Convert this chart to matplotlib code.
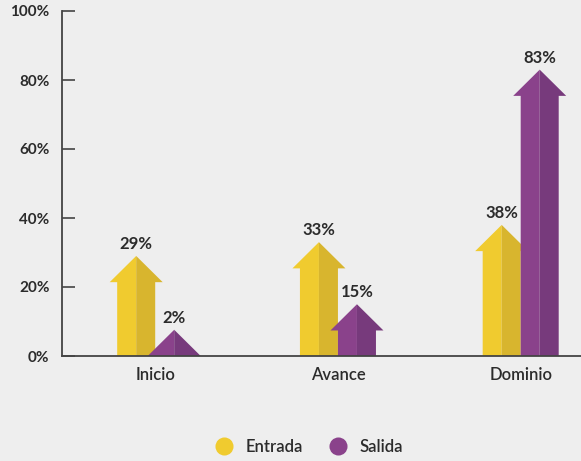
import matplotlib
matplotlib.use("Agg")
import matplotlib.pyplot as plt
from matplotlib.patches import Polygon
from matplotlib.lines import Line2D

# data
categories = ["Inicio", "Avance", "Dominio"]
entrada = [29, 33, 38]
salida = [2, 15, 83]
series_names = ["Entrada", "Salida"]
yticks = [0, 20, 40, 60, 80, 100]
ytick_labels = ["0%", "20%", "40%", "60%", "80%", "100%"]

BG = "#eeeeee"
TXT = "#2b2b2b"
COLORS = {
    "Entrada": ("#f0cb2f", "#d8b52e"),
    "Salida": ("#8a428b", "#773a7c"),
}

BODY_W = 0.208   # arrow body width (x units)
HEAD_W = 0.29    # arrow head width
HEAD_H = 7.6     # arrow head height (y units)

plt.rcParams["font.family"] = ["Lato", "DejaVu Sans"]


def draw_arrow(ax, cx, value, colors, z):
    """ two-tone upward arrow with its tip at value """
    tip = max(value, HEAD_H)
    base = tip - HEAD_H
    left = [(cx - BODY_W / 2, 0), (cx - BODY_W / 2, base),
            (cx - HEAD_W / 2, base), (cx, tip), (cx, 0)]
    right = [(cx + BODY_W / 2, 0), (cx + BODY_W / 2, base),
             (cx + HEAD_W / 2, base), (cx, tip), (cx, 0)]
    ax.add_patch(Polygon(left, closed=True, facecolor=colors[0],
                         edgecolor="none", zorder=z))
    ax.add_patch(Polygon(right, closed=True, facecolor=colors[1],
                         edgecolor="none", zorder=z))
    ax.text(cx, tip + 1.2, "%d%%" % value, ha="center", va="bottom",
            fontsize=12, fontweight="bold", color=TXT, zorder=5)


fig = plt.figure(figsize=(5.81, 4.61), dpi=100)
fig.patch.set_facecolor(BG)
ax = fig.add_axes([62 / 581, 105 / 461, 1 - 62 / 581, 345 / 461])
ax.set_facecolor(BG)

offset = BODY_W / 2
for i, cat in enumerate(categories):
    draw_arrow(ax, i - offset, entrada[i], COLORS["Entrada"], 2)
    draw_arrow(ax, i + offset, salida[i], COLORS["Salida"], 3)

ax.set_xlim(-0.51, 2.33)
ax.set_ylim(0, 100)

ax.set_yticks(yticks)
ax.set_yticklabels(ytick_labels, fontsize=11, fontweight="bold", color=TXT)
ax.set_xticks(range(len(categories)))
ax.set_xticklabels(categories, fontsize=12, fontweight="semibold", color=TXT)
ax.tick_params(axis="y", direction="in", length=9.5, width=1.2,
               color="#444444", pad=9)
ax.tick_params(axis="x", length=0, pad=8)

for side in ["top", "right"]:
    ax.spines[side].set_visible(False)
for side in ["left", "bottom"]:
    ax.spines[side].set_color("#444444")
    ax.spines[side].set_linewidth(1.3)
    ax.spines[side].set_zorder(6)

handles = [Line2D([], [], linestyle="none", marker="o", markersize=13,
                  markerfacecolor=COLORS[n][0], markeredgecolor="none")
           for n in series_names]
fig.legend(handles, series_names, loc="center", ncol=2, frameon=False,
           bbox_to_anchor=(309 / 581, 1 - 447 / 461),
           prop={"size": 12, "weight": "semibold"},
           handlelength=1.0, handletextpad=0.8, columnspacing=1.6,
           labelcolor=TXT)

fig.savefig("out.png", dpi=100, facecolor=BG)
